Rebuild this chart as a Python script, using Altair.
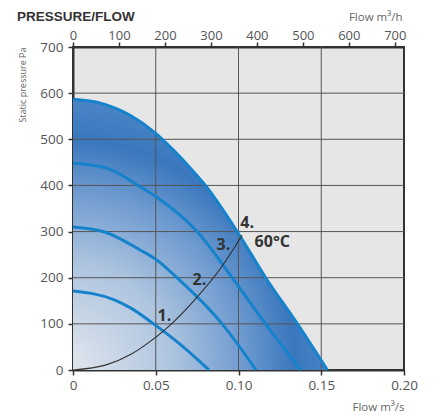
import altair as alt
import pandas as pd

# ---- data ----
# fan curves: flow (m³/s) vs static pressure (Pa)
curve4_q = [0.0, 0.015, 0.0345, 0.05, 0.0608, 0.07, 0.080, 0.0992, 0.1164, 0.1356, 0.1537]
curve4_p = [587, 580, 552, 513, 476, 441, 400, 300, 200, 100, 0]
curve3_q = [0.0, 0.02, 0.0406, 0.05, 0.075, 0.0962, 0.1164, 0.1376]
curve3_p = [448, 438, 397, 376, 300, 200, 100, 0]
curve2_q = [0.0, 0.02, 0.0406, 0.05, 0.0628, 0.0901, 0.1106]
curve2_p = [310, 298, 260, 240, 200, 100, 0]
curve1_q = [0.0, 0.025, 0.035, 0.0487, 0.065, 0.0822]
curve1_p = [171, 152, 134, 100, 55, 0]
# system curve
system_q = [0.0, 0.02, 0.035, 0.0467, 0.0558, 0.075, 0.0891, 0.1022]
system_p = [0, 11, 34, 62, 88, 158, 220, 292]
# curve labels
label_text = ["1.", "2.", "3.", "4.", "60°C"]
label_q = [0.0552, 0.0764, 0.0909, 0.1052, 0.1204]
label_p = [117, 196, 271, 318, 278]
# axes
x_ticks = [0, 0.05, 0.10, 0.15, 0.20]
y_ticks = [0, 100, 200, 300, 400, 500, 600, 700]
top_ticks = [0, 100, 200, 300, 400, 500, 600, 700]
grid_q = [0.05, 0.10, 0.15]
grid_p = [100, 200, 300, 400, 500, 600]

# ---- tables ----
fan = pd.concat([
    pd.DataFrame({"q": curve1_q, "p": curve1_p, "curve": "1"}),
    pd.DataFrame({"q": curve2_q, "p": curve2_p, "curve": "2"}),
    pd.DataFrame({"q": curve3_q, "p": curve3_p, "curve": "3"}),
    pd.DataFrame({"q": curve4_q, "p": curve4_p, "curve": "4"}),
])
outer = pd.DataFrame({"q": curve4_q, "p": curve4_p})
system = pd.DataFrame({"q": system_q, "p": system_p})
labels = pd.DataFrame({"q": label_q, "p": label_p, "t": label_text})
vgrid = pd.DataFrame({"q": grid_q})
hgrid = pd.DataFrame({"p": grid_p})
top = pd.DataFrame({"h": top_ticks})

W, H = 331, 323
FONT = "Open Sans"

x_enc = alt.X(
    "q:Q",
    scale=alt.Scale(domain=[0, 0.2], nice=False),
    axis=alt.Axis(
        orient="bottom", values=x_ticks,
        labelExpr="datum.value == 0 ? '0' : format(datum.value, '.2f')",
        tickSize=5, labelPadding=3,
        title="Flow m³/s", titleX=W, titleY=40, titleAlign="right",
        titleBaseline="alphabetic", titleFontSize=11.5,
    ),
)
y_enc = alt.Y(
    "p:Q",
    scale=alt.Scale(domain=[0, 700], nice=False),
    axis=alt.Axis(
        values=y_ticks, tickSize=5, labelPadding=5,
        title="Static pressure Pa", titleAngle=-90, titleX=-47.5, titleY=0,
        titleAlign="right", titleBaseline="alphabetic", titleFontSize=9,
    ),
)

gradient = alt.RadialGradient(
    gradient="radial",
    stops=[
        alt.GradientStop(offset=0.0, color="#e4e8ee"),
        alt.GradientStop(offset=0.4, color="#adc4df"),
        alt.GradientStop(offset=0.65, color="#719cd0"),
        alt.GradientStop(offset=0.85, color="#3a77bd"),
        alt.GradientStop(offset=1.0, color="#4a86c6"),
    ],
    x1=0, y1=1, r1=0, x2=0, y2=1, r2=1,
)

area = alt.Chart(outer).mark_area(interpolate="monotone", color=gradient).encode(x=x_enc, y=y_enc)
vg = alt.Chart(vgrid).mark_rule(color="#555", strokeWidth=1).encode(x=x_enc)
hg = alt.Chart(hgrid).mark_rule(color="#555", strokeWidth=1).encode(y=y_enc)
lines = alt.Chart(fan).mark_line(interpolate="monotone", color="#1582cc", strokeWidth=3).encode(
    x=x_enc, y=y_enc, detail="curve:N")
sysline = alt.Chart(system).mark_line(interpolate="monotone", color="#333", strokeWidth=1.2).encode(
    x=x_enc, y=y_enc)
texts = alt.Chart(labels).mark_text(font=FONT, fontSize=16, fontWeight="bold", color="#333",
                                    align="center", baseline="middle").encode(
    x=x_enc, y=y_enc, text="t:N")
title = alt.Chart(pd.DataFrame({"t": ["PRESSURE/FLOW"]})).mark_text(
    font="Liberation Sans", fontSize=13.5, fontWeight="bold", color="#333",
    align="left", baseline="alphabetic"
).encode(x=alt.value(-56), y=alt.value(-26), text="t:N")

inner = alt.layer(area, vg, hg, lines, sysline, texts, title)

top_layer = alt.Chart(top).mark_point(opacity=0).encode(
    x=alt.X("h:Q", scale=alt.Scale(domain=[0, 720], nice=False),
            axis=alt.Axis(orient="top", values=top_ticks, format="d", tickSize=5, labelPadding=0,
                          labelFontSize=13,
                          title="Flow m³/h", titleX=W - 2, titleY=-27, titleAlign="right",
                          titleBaseline="alphabetic", titleFontSize=11.5))
)

chart = alt.layer(inner, top_layer).resolve_scale(x="independent").properties(
    width=W, height=H,
    autosize=alt.AutoSizeParams(type="none"),
    padding={"left": 65, "top": 39, "right": 21, "bottom": 45},
).configure_view(
    fill="#e6e6e6", stroke="#333", strokeWidth=2
).configure_axis(
    grid=False, domainColor="#333", domainWidth=2, tickColor="#333", tickWidth=1.5,
    labelFont=FONT, labelFontSize=13.5, labelColor="#555", labelFlush=False,
    titleFont=FONT, titleFontWeight="normal", titleColor="#666",
)

chart.save("out.html", embed_options={"renderer": "svg", "actions": False})
